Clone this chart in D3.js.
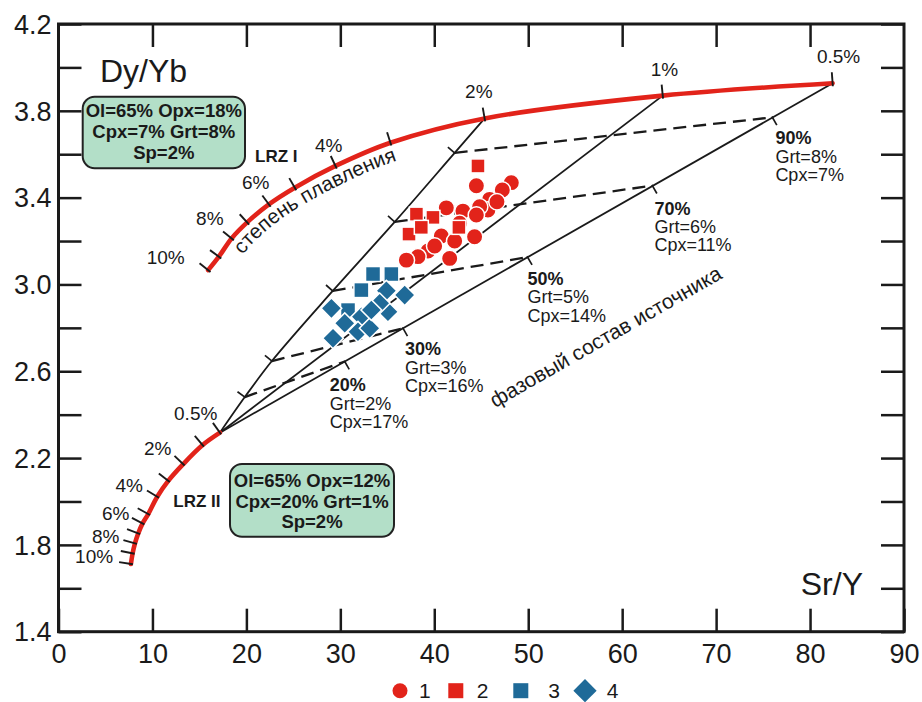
<!DOCTYPE html>
<html><head><meta charset="utf-8">
<script src="https://cdn.jsdelivr.net/npm/d3@7"></script>
<style>
body{margin:0;background:#fff}
svg{display:block}
text{font-family:"Liberation Sans",Arial,Helvetica,sans-serif;fill:#1a1a1a}
</style>
</head><body>
<svg id="c" width="922" height="702"></svg>
<script>
// ---------------- DATA ----------------
const xTickValues = [0,10,20,30,40,50,60,70,80,90];
const yTickValues = [1.4,1.6,1.8,2.0,2.2,2.4,2.6,2.8,3.0,3.2,3.4,3.6,3.8,4.0,4.2];
const yTickLabels = [1.4,1.8,2.2,2.6,3.0,3.4,3.8,4.2];
const xTopTicks = [10,20,30,40,50,60,70,80];

// LRZ I melting curve (degree of melting, Sr/Y, Dy/Yb)
const lrz1Melt = ["0.5%","1%","2%","3%","4%","5%","6%","7%","8%","9%","10%"];
const lrz1X = [82.40,64.32,45.36,35.33,29.48,25.15,22.39,20.08,18.42,17.07,15.93];
const lrz1Y = [3.927,3.870,3.765,3.653,3.546,3.446,3.369,3.286,3.212,3.128,3.066];
const lrz1Labeled = ["0.5%","1%","2%","4%","6%","8%","10%"];

// LRZ II melting curve
const lrz2Melt = ["0.5%","1%","2%","3%","4%","5%","6%","7%","8%","9%","10%"];
const lrz2X = [17.18,15.34,13.27,11.68,10.51,9.55,8.95,8.49,8.14,7.89,7.71];
const lrz2Y = [2.317,2.260,2.172,2.095,2.022,1.942,1.899,1.853,1.807,1.761,1.712];
const lrz2Labeled = ["0.5%","2%","4%","6%","8%","10%"];

// source phase composition (mixing) tie lines
const mixFraction = ["20%","30%","50%","70%","90%"];
const mixGrt = ["Grt=2%","Grt=3%","Grt=5%","Grt=6%","Grt=8%"];
const mixCpx = ["Cpx=17%","Cpx=16%","Cpx=14%","Cpx=11%","Cpx=7%"];
const dashLeftX = [19.83,22.71,29.19,35.79,42.17];
const dashLeftY = [2.481,2.647,2.970,3.288,3.606];
const dashRightX = [30.47,36.67,49.93,63.22,75.99];
const dashRightY = [2.645,2.798,3.126,3.455,3.770];

// samples
const redCircleX = [44.48,48.20,47.24,45.89,45.71,44.83,41.28,43.05,44.48,40.75,42.17,44.29,39.33,38.26,37.03,41.64,40.04,42.70,46.67];
const redCircleY = [3.455,3.469,3.435,3.392,3.343,3.358,3.353,3.338,3.320,3.223,3.200,3.220,3.154,3.128,3.112,3.120,3.177,3.282,3.381];
const redSquareX = [44.65,38.10,39.86,37.31,42.62,38.62];
const redSquareY = [3.546,3.324,3.309,3.232,3.263,3.263];
const blueSquareX = [33.48,35.43,32.24,30.82];
const blueSquareY = [3.048,3.048,2.974,2.882];
const blueDiamondX = [29.05,34.90,36.85,35.07,32.24,30.47,31.88,29.22,34.19,33.13,33.30];
const blueDiamondY = [2.890,2.971,2.951,2.874,2.851,2.821,2.782,2.752,2.913,2.798,2.882];

const legendLabels = ["1","2","3","4"];
const box1Lines = ["Ol=65% Opx=18%","Cpx=7% Grt=8%","Sp=2%"];
const box2Lines = ["Ol=65% Opx=12%","Cpx=20% Grt=1%","Sp=2%"];

// ---------------- STYLE / LAYOUT ----------------
const RED = "#e2231a", BLUE = "#1f6a98", GREEN = "#b3dfc8", INK = "#1a1a1a";
const W = 922, H = 702;
const svg = d3.select("#c");
svg.append("rect").attr("width",W).attr("height",H).attr("fill","#fff");

const x = d3.scaleLinear().domain([0,90]).range([58.5,904]);
const y = d3.scaleLinear().domain([1.4,4.2]).range([631.7,24]);
const P = (a,b) => [x(a), y(b)];

// label offsets (px) relative to the tick points
const lrz1LabelOff = {"0.5%":[6,-26.6],"1%":[1.7,-26.5],"2%":[-5.8,-27.5],"4%":[-6.7,-21],"6%":[-13.2,-22.6],"8%":[-21.7,-20],"10%":[-42.5,-13.3]};
const lrz2LabelOff = {"0.5%":[-24.2,-19.4],"2%":[-25.5,-15.7],"4%":[-28.1,-11.7],"6%":[-26.9,-10],"8%":[-29.2,-7.5],"10%":[-36.8,-8.2]};
const mixLabelOff = [[-15,30],[2,27],[0,28],[2,29],[3,27]];

// ---------------- AXES ----------------
const fontFam = '"Liberation Sans",Arial,sans-serif';
const gb = svg.append("g").attr("transform",`translate(0,${y(1.4)})`)
  .call(d3.axisBottom(x).tickValues(xTickValues).tickSizeInner(-23).tickSizeOuter(0).tickPadding(12).tickFormat(d3.format("d")));
const gt = svg.append("g").attr("transform",`translate(0,${y(4.2)})`)
  .call(d3.axisTop(x).tickValues(xTopTicks).tickSizeInner(-23).tickSizeOuter(0).tickFormat(""));
const isLab = v => yTickLabels.some(t => Math.abs(t-v)<1e-9);
const gl = svg.append("g").attr("transform",`translate(${x(0)},0)`)
  .call(d3.axisLeft(y).tickValues(yTickValues).tickSizeInner(-23).tickSizeOuter(0).tickPadding(7)
    .tickFormat(v => isLab(v) ? d3.format(".1f")(v) : ""));
const gr = svg.append("g").attr("transform",`translate(${x(90)},0)`)
  .call(d3.axisRight(y).tickValues(yTickValues).tickSizeInner(-23).tickSizeOuter(0).tickFormat(""));
[gb,gt,gl,gr].forEach(g => {
  g.select(".domain").remove();
  g.attr("font-family",fontFam).attr("font-size",27);
  g.selectAll(".tick line").attr("stroke",INK).attr("stroke-width",2.5);
  g.selectAll(".tick text").attr("fill","#222");
});
gl.selectAll(".tick text").attr("dy","0.34em");
svg.append("rect").attr("x",x(0)).attr("y",y(4.2)).attr("width",x(90)-x(0)).attr("height",y(1.4)-y(4.2))
  .attr("fill","none").attr("stroke",INK).attr("stroke-width",3);

svg.append("text").attr("x",100).attr("y",81.7).attr("font-size",32).text("Dy/Yb");
svg.append("text").attr("x",863).attr("y",595).attr("font-size",32).attr("text-anchor","end").text("Sr/Y");

// ---------------- GEOMETRY ----------------
const lrz1 = lrz1X.map((v,i)=>P(v,lrz1Y[i]));
const lrz2 = lrz2X.map((v,i)=>P(v,lrz2Y[i]));
const J = lrz2[0];
const L2 = lrz1[lrz1Melt.indexOf("2%")];
const M = lrz1[lrz1Melt.indexOf("1%")];
const R = lrz1[lrz1Melt.indexOf("0.5%")];
const dashL = dashLeftX.map((v,i)=>P(v,dashLeftY[i]));
const dashR = dashRightX.map((v,i)=>P(v,dashRightY[i]));

const gLines = svg.append("g");
const lineGen = d3.line().curve(d3.curveCatmullRom.alpha(0.5));
gLines.append("path").attr("d", lineGen([J, ...dashL, L2])).attr("fill","none").attr("stroke",INK).attr("stroke-width",1.8);
gLines.append("path").attr("d", d3.line()([J, M])).attr("fill","none").attr("stroke",INK).attr("stroke-width",1.8);
gLines.append("path").attr("d", d3.line()([J, R])).attr("fill","none").attr("stroke",INK).attr("stroke-width",1.8);
dashL.forEach((p,i)=>{
  gLines.append("path").attr("d", d3.line()([p, dashR[i]])).attr("fill","none")
    .attr("stroke",INK).attr("stroke-width",2.3).attr("stroke-dasharray","13 7");
});

function tickAt(pts, i, a, b, g, w){
  const p = pts[i], q0 = pts[Math.max(i-1,0)], q1 = pts[Math.min(i+1,pts.length-1)];
  let tx=q1[0]-q0[0], ty=q1[1]-q0[1]; const n=Math.hypot(tx,ty); tx/=n; ty/=n;
  const nx=-ty, ny=tx;
  g.append("line").attr("x1",p[0]+nx*a).attr("y1",p[1]+ny*a).attr("x2",p[0]+nx*b).attr("y2",p[1]+ny*b)
    .attr("stroke",INK).attr("stroke-width",w||1.8);
}
const leftPts = [J, ...dashL, L2];
dashL.forEach((p,i)=> tickAt(leftPts, i+1, 1, -9, gLines, 1.7));
const rightPts = [J, ...dashR, R];
dashR.forEach((p,i)=> tickAt(rightPts, i+1, -1, 9, gLines, 1.7));

// melting curves
const gCurves = svg.append("g");
const c1 = gCurves.append("path").attr("d", lineGen(lrz1)).attr("fill","none").attr("stroke",RED).attr("stroke-width",4.6).attr("stroke-linecap","round");
gCurves.append("path").attr("d", lineGen(lrz2)).attr("fill","none").attr("stroke",RED).attr("stroke-width",4.6).attr("stroke-linecap","round");
lrz1.forEach((p,i)=> tickAt(lrz1, i, -3, 11, gCurves, 1.9));
lrz2.forEach((p,i)=> tickAt(lrz2, i, -2, 12, gCurves, 1.9));

// melting labels
const gLab = svg.append("g").attr("font-size",19);
lrz1Labeled.forEach(m=>{
  const p = lrz1[lrz1Melt.indexOf(m)], o = lrz1LabelOff[m];
  gLab.append("text").attr("x",p[0]+o[0]).attr("y",p[1]+o[1]).attr("dy","0.36em").attr("text-anchor","middle").text(m);
});
lrz2Labeled.forEach(m=>{
  const p = lrz2[lrz2Melt.indexOf(m)], o = lrz2LabelOff[m];
  gLab.append("text").attr("x",p[0]+o[0]).attr("y",p[1]+o[1]).attr("dy","0.36em").attr("text-anchor","middle").text(m);
});
svg.append("text").attr("x",255).attr("y",161.7).attr("font-size",17).attr("font-weight","bold").text("LRZ I");
svg.append("text").attr("x",173.3).attr("y",507.3).attr("font-size",17).attr("font-weight","bold").text("LRZ II");

// mixing labels
mixFraction.forEach((f,i)=>{
  const p = dashR[i], o = mixLabelOff[i];
  const t = svg.append("text").attr("x",p[0]+o[0]).attr("y",p[1]+o[1]).attr("font-size",18);
  t.append("tspan").attr("font-weight","bold").text(f);
  t.append("tspan").attr("x",p[0]+o[0]).attr("dy",18.3).text(mixGrt[i]);
  t.append("tspan").attr("x",p[0]+o[0]).attr("dy",18.3).text(mixCpx[i]);
});

// text along LRZ I curve
{
  const node = c1.node(), Ltot = node.getTotalLength();
  const raw = d3.range(0, Ltot+0.1, 2).map(s=>{const q=node.getPointAtLength(Math.min(s,Ltot));return [q.x,q.y];}).reverse();
  const off = raw.map((p,i)=>{
    const a=raw[Math.max(i-1,0)], b=raw[Math.min(i+1,raw.length-1)];
    let tx=b[0]-a[0], ty=b[1]-a[1]; const n=Math.hypot(tx,ty)||1; tx/=n; ty/=n;
    return [p[0]-ty*19, p[1]+tx*19];
  });
  const target=[242,254];
  let best=0,bd=1e9; off.forEach((p,i)=>{const d=Math.hypot(p[0]-target[0],p[1]-target[1]); if(d<bd){bd=d;best=i;}});
  let so=0; for(let i=1;i<=best;i++) so+=Math.hypot(off[i][0]-off[i-1][0],off[i][1]-off[i-1][1]);
  svg.append("defs").append("path").attr("id","meltPath").attr("d", d3.line()(off));
  svg.append("text").attr("font-size",20.5).append("textPath").attr("href","#meltPath").attr("startOffset",so)
    .text("степень плавления");
}
{
  const ang = Math.atan2(R[1]-J[1], R[0]-J[0])*180/Math.PI;
  svg.append("text").attr("transform",`translate(495,408) rotate(${ang})`).attr("font-size",21).text("фазовый состав источника");
}

// composition boxes
function box(x0,y0,w,h,lines,cx,base){
  svg.append("rect").attr("x",x0).attr("y",y0).attr("width",w).attr("height",h).attr("rx",12)
    .attr("fill",GREEN).attr("stroke","#222").attr("stroke-width",2);
  lines.forEach((l,i)=> svg.append("text").attr("x",cx).attr("y",base[i]).attr("text-anchor","middle")
    .attr("font-size",18.5).attr("font-weight","bold").text(l));
}
box(82.7,96.7,162.3,71.6,box1Lines,163.8,[116.7,137.7,159.3]);
box(230,464,164,72.7,box2Lines,312,[486.7,507.7,528.3]);

// ---------------- SAMPLES ----------------
const gPts = svg.append("g").attr("stroke","#fff").attr("stroke-width",1.5);
gPts.selectAll(".rc").data(d3.zip(redCircleX,redCircleY)).join("circle")
  .attr("cx",d=>x(d[0])).attr("cy",d=>y(d[1])).attr("r",8.2).attr("fill",RED);
gPts.selectAll(".rs").data(d3.zip(redSquareX,redSquareY)).join("rect")
  .attr("x",d=>x(d[0])-7).attr("y",d=>y(d[1])-7).attr("width",14).attr("height",14).attr("fill",RED);
gPts.selectAll(".bs").data(d3.zip(blueSquareX,blueSquareY)).join("rect")
  .attr("x",d=>x(d[0])-7.5).attr("y",d=>y(d[1])-7.5).attr("width",15).attr("height",15).attr("fill",BLUE);
gPts.selectAll(".bd").data(d3.zip(blueDiamondX,blueDiamondY)).join("path")
  .attr("d",d3.symbol().type(d3.symbolSquare).size(215))
  .attr("transform",d=>`translate(${x(d[0])},${y(d[1])}) rotate(45)`).attr("fill",BLUE);

// ---------------- LEGEND ----------------
{
  const ly = 690.7, g = svg.append("g");
  g.append("circle").attr("cx",400).attr("cy",ly).attr("r",7.5).attr("fill",RED);
  g.append("rect").attr("x",448.3).attr("y",ly-7.5).attr("width",15).attr("height",15).attr("fill",RED);
  g.append("rect").attr("x",513.3).attr("y",ly-7.5).attr("width",15).attr("height",15).attr("fill",BLUE);
  g.append("path").attr("d",d3.symbol().type(d3.symbolSquare).size(270)).attr("transform",`translate(585,${ly}) rotate(45)`).attr("fill",BLUE);
  const lx = [419,476.7,548.3,606.7];
  legendLabels.forEach((l,i)=> g.append("text").attr("x",lx[i]).attr("y",ly+7.5).attr("font-size",21).text(l));
}
</script>
</body></html>
